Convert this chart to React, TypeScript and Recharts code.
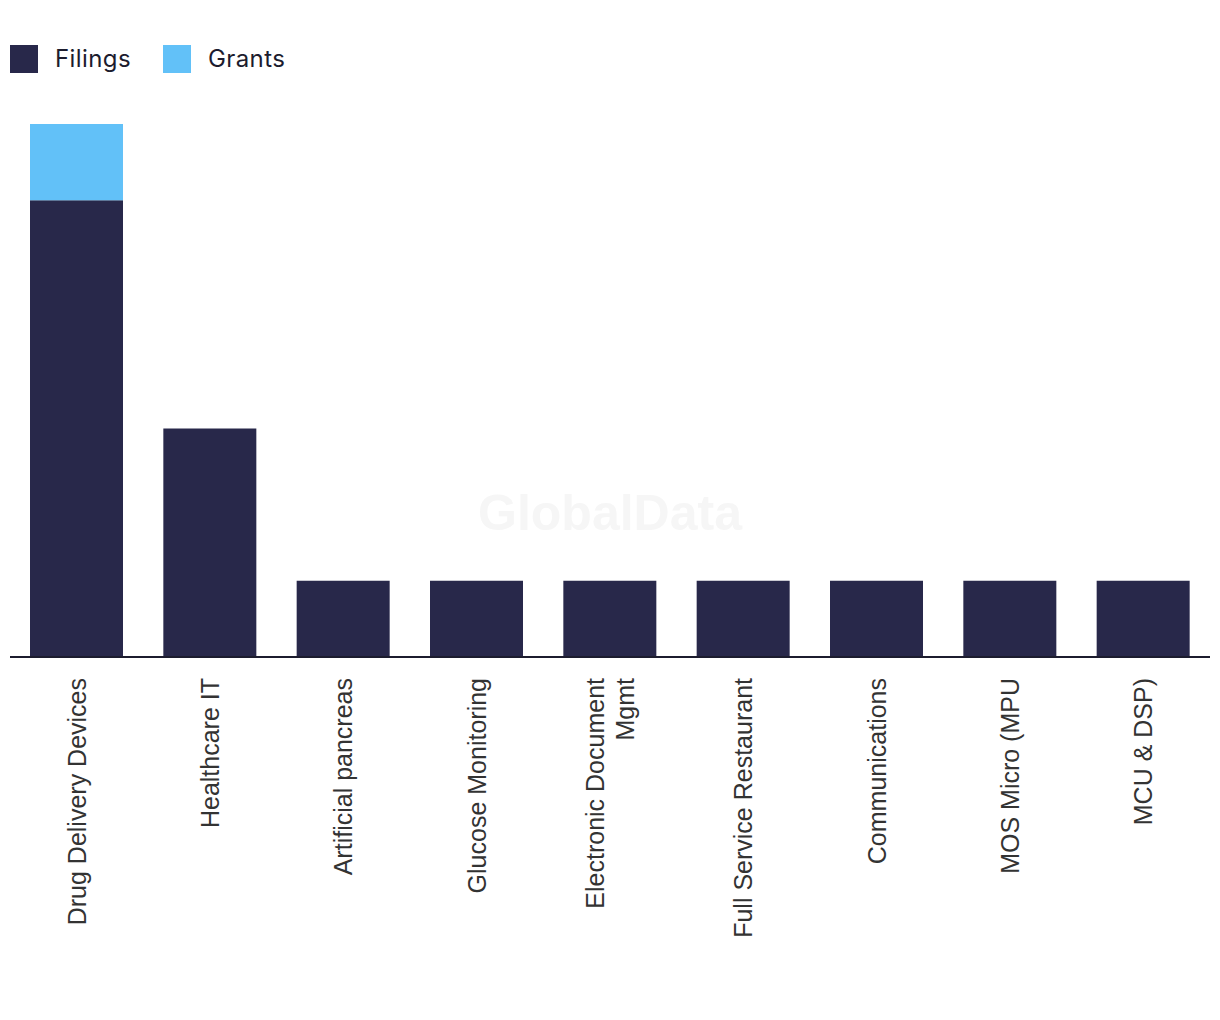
import { Bar, BarChart, XAxis, YAxis } from 'recharts';

const CATEGORIES = [
  'Drug Delivery Devices',
  'Healthcare IT',
  'Artificial pancreas',
  'Glucose Monitoring',
  'Electronic Document Mgmt',
  'Full Service Restaurant',
  'Communications',
  'MOS Micro (MPU',
  'MCU & DSP)',
];
const FILINGS = [6, 3, 1, 1, 1, 1, 1, 1, 1];
const GRANTS = [1, 0, 0, 0, 0, 0, 0, 0, 0];

const NAVY = '#28284a';
const SKY = '#62c1f8';
const LABEL_FONT = '"Liberation Sans", Arial, sans-serif';

const data = CATEGORIES.map((name, i) => ({ name, filings: FILINGS[i], grants: GRANTS[i] }));

let ctx: CanvasRenderingContext2D | null = null;
function measure(text: string) {
  if (!ctx) ctx = document.createElement('canvas').getContext('2d');
  if (!ctx) return text.length * 12;
  ctx.font = `25px ${LABEL_FONT}`;
  return ctx.measureText(text).width;
}

// word wrap to a max pixel width, like recharts' own tick wrapping
function wrap(text: string, max: number) {
  const lines: string[] = [];
  let cur = '';
  for (const w of text.split(' ')) {
    const next = cur ? `${cur} ${w}` : w;
    if (cur && measure(next) > max) {
      lines.push(cur);
      cur = w;
    } else cur = next;
  }
  if (cur) lines.push(cur);
  return lines;
}

function RotatedTick({ x, y, payload }: { x?: number; y?: number; payload?: { value: string } }) {
  if (x === undefined || y === undefined || !payload) return null;
  const lines = wrap(payload.value, 285);
  const n = lines.length;
  return (
    <g transform={`translate(${x},${y + 13}) rotate(-90)`}>
      <text textAnchor="end" fill="#333333" fontSize={25} fontFamily={LABEL_FONT}>
        {lines.map((l, i) => (
          <tspan key={i} x={0} y={(i - (n - 1) / 2) * 30 + 9}>
            {l}
          </tspan>
        ))}
      </text>
    </g>
  );
}

function LegendItem({ color, label }: { color: string; label: string }) {
  return (
    <span style={{ display: 'flex', alignItems: 'center', gap: 17, marginRight: 32 }}>
      <span style={{ width: 28, height: 28, background: color, display: 'inline-block' }} />
      <span>{label}</span>
    </span>
  );
}

export default function App() {
  return (
    <div style={{ position: 'absolute', left: 0, top: 0, width: 1220, height: 1020, background: '#fff' }}>
      <div
        style={{
          position: 'absolute',
          left: 10,
          top: 45,
          display: 'flex',
          fontFamily: 'Inter, "Noto Sans", sans-serif',
          fontSize: 24,
          letterSpacing: 0.4,
          color: '#1c1c2e',
          lineHeight: '28px',
        }}
      >
        <LegendItem color={NAVY} label="Filings" />
        <LegendItem color={SKY} label="Grants" />
      </div>
      <div
        style={{
          position: 'absolute',
          left: 0,
          width: 1220,
          top: 484,
          textAlign: 'center',
          fontFamily: '"Liberation Sans", Arial, sans-serif',
          fontWeight: 700,
          fontSize: 50,
          color: '#f6f6f6',
        }}
      >
        GlobalData
      </div>
      <BarChart
        width={1220}
        height={1020}
        data={data}
        margin={{ top: 124, right: 10, bottom: 0, left: 10 }}
        barCategoryGap="15%"
        style={{ position: 'absolute', left: 0, top: 0 }}
      >
        <XAxis
          dataKey="name"
          height={363}
          interval={0}
          tickLine={false}
          axisLine={{ stroke: '#1c1c2e', strokeWidth: 2 }}
          tick={<RotatedTick />}
        />
        <YAxis hide domain={[0, 7]} />
        <Bar dataKey="filings" stackId="a" fill={NAVY} isAnimationActive={false} />
        <Bar dataKey="grants" stackId="a" fill={SKY} isAnimationActive={false} />
      </BarChart>
    </div>
  );
}
